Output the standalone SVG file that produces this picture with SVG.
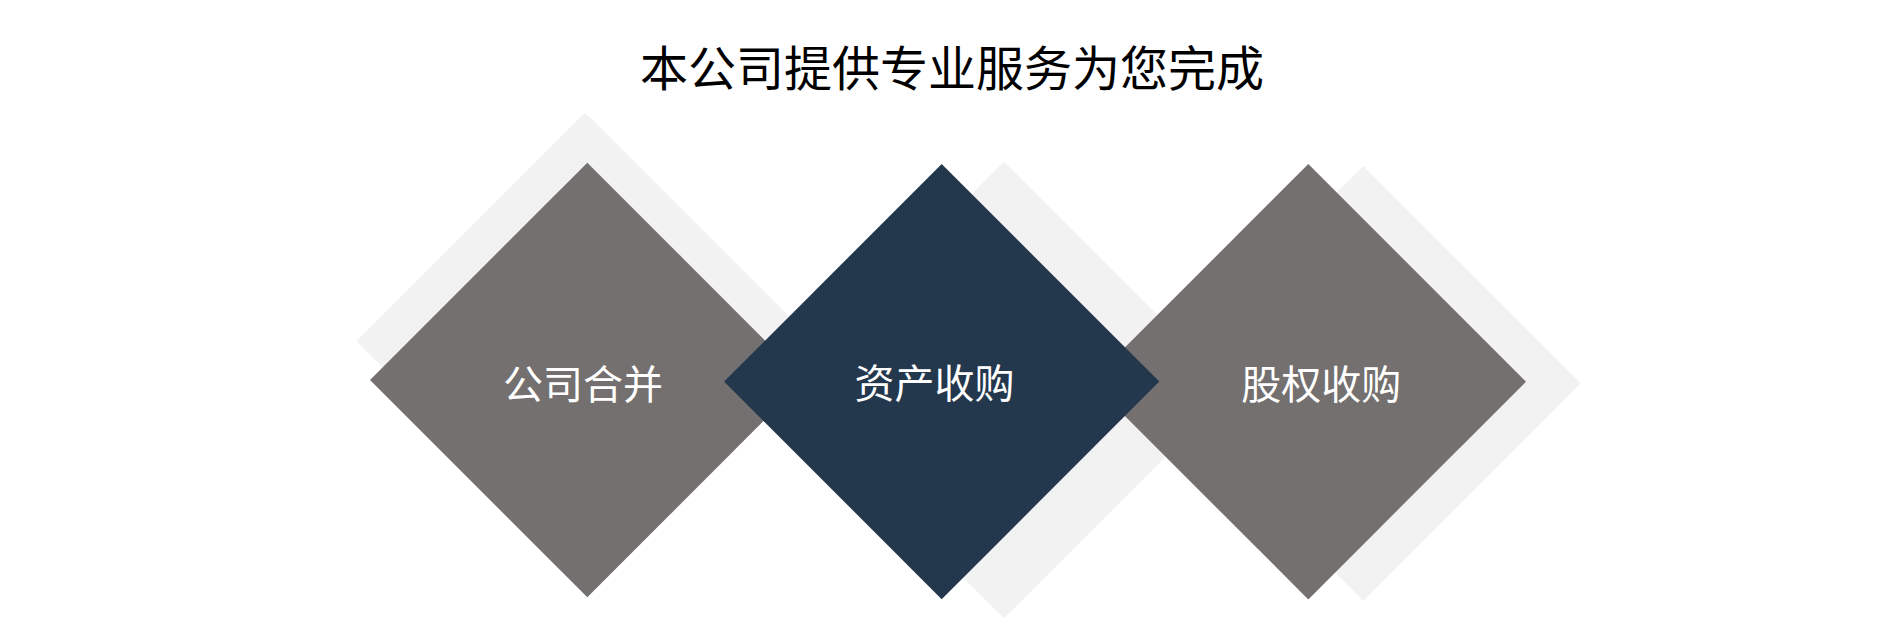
<svg xmlns="http://www.w3.org/2000/svg" width="1898" height="628" viewBox="0 0 1898 628">
  <style>
    .shadow { fill: #f2f2f2; }
    .gray { fill: #73706f; }
    .navy { fill: #23374d; }
    .label { font-family: "Noto Sans CJK SC", "Noto Sans", sans-serif; font-size: 40px; fill: #ffffff; text-anchor: middle; }
    .title { font-family: "Noto Sans CJK SC", "Noto Sans", sans-serif; font-size: 48px; fill: #000000; text-anchor: middle; }
  </style>
  <rect width="1898" height="628" fill="#ffffff"/>
  <text class="title" x="952" y="86">本公司提供专业服务为您完成</text>
  <g id="shadows">
    <polygon class="shadow" points="585,112.5 813.5,341 585,569.5 356.5,341"/>
    <polygon class="shadow" points="1004,161.7 1232.3,390 1004,618.3 775.7,390"/>
    <polygon class="shadow" points="1363.3,165.9 1580.7,383.3 1363.3,600.7 1145.9,383.3"/>
  </g>
  <g id="node-merger">
    <polygon class="gray" points="587.3,162.7 804.6,380 587.3,597.3 370,380"/>
    <text class="label" x="583" y="399">公司合并</text>
  </g>
  <g id="node-equity">
    <polygon class="gray" points="1308.3,164 1526,381.7 1308.3,599.4 1090.6,381.7"/>
    <text class="label" x="1321.3" y="399">股权收购</text>
  </g>
  <g id="node-asset">
    <polygon class="navy" points="941.7,164 1159.3,381.6 941.7,599.2 724.1,381.6"/>
    <text class="label" x="934.6" y="398">资产收购</text>
  </g>
  <g id="connectors"/>
</svg>
